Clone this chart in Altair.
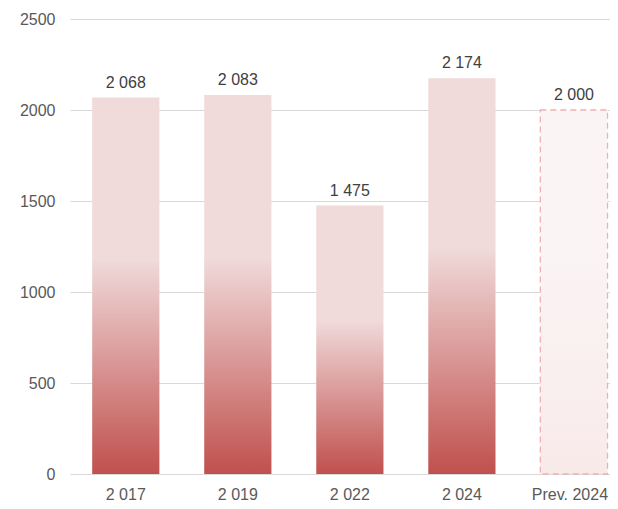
import altair as alt
import pandas as pd

categories = ["2 017", "2 019", "2 022", "2 024", "Prev. 2024"]
values = [2068, 2083, 1475, 2174, 2000]
kinds = ["actual", "actual", "actual", "actual", "forecast"]
y_ticks = [0, 500, 1000, 1500, 2000, 2500]

df = pd.DataFrame({
    "cat": categories,
    "val": values,
    "kind": kinds,
    "label": [f"{v:,}".replace(",", " ") for v in values],
})

FONT = "Liberation Sans"

x_enc = alt.X(
    "cat:N",
    sort=categories,
    scale=alt.Scale(paddingInner=0.4, paddingOuter=0.11, align=0.9),
    axis=alt.Axis(title=None, labelAngle=0, ticks=False, domain=False,
                  labelFontSize=16, labelColor="#595959", labelFont=FONT,
                  labelPadding=12,
                  labelOffset={"condition": {"test": "datum.value == 'Prev. 2024'", "value": -4},
                               "value": 0}),
)
y_enc = alt.Y(
    "val:Q",
    scale=alt.Scale(domain=[0, 2500], nice=False),
    axis=alt.Axis(title=None, values=y_ticks, format="d", ticks=False, domain=False,
                  labelFontSize=16, labelColor="#595959", labelFont=FONT,
                  labelPadding=15, gridColor="#d9d9d9", gridWidth=1),
)

grad = alt.LinearGradient(
    gradient="linear", x1=0, x2=0, y1=1, y2=0,
    stops=[alt.GradientStop(color="#c0504d", offset=0),
           alt.GradientStop(color="#f0dada", offset=0.57),
           alt.GradientStop(color="#f0dada", offset=1)],
)
grad_prev = alt.LinearGradient(
    gradient="linear", x1=0, x2=0, y1=1, y2=0,
    stops=[alt.GradientStop(color="#f9eaea", offset=0),
           alt.GradientStop(color="#faf4f4", offset=0.6),
           alt.GradientStop(color="#faf5f5", offset=1)],
)

base = alt.Chart(df)

bars = base.transform_filter(alt.datum.kind == "actual").mark_bar(
    color=grad, cornerRadius=0
).encode(x=x_enc, y=y_enc)

prev = base.transform_filter(alt.datum.kind == "forecast").mark_bar(
    color=grad_prev, stroke="#f0b0b0", strokeWidth=1.3, strokeDash=[6, 4]
).encode(x=x_enc, y=y_enc)

labels = base.mark_text(
    baseline="alphabetic", dy=-10, fontSize=16, font=FONT, color="#404040"
).encode(x=x_enc, y=y_enc, text="label:N")

chart = alt.layer(bars, prev, labels).properties(
    width=540, height=455,
    autosize=alt.AutoSizeParams(type="none"),
    padding={"left": 62, "top": 11, "right": 0, "bottom": 27},
).configure_view(stroke=None).configure_axisX(grid=False)

chart.save("out.html", embed_options={"renderer": "svg", "actions": False})
